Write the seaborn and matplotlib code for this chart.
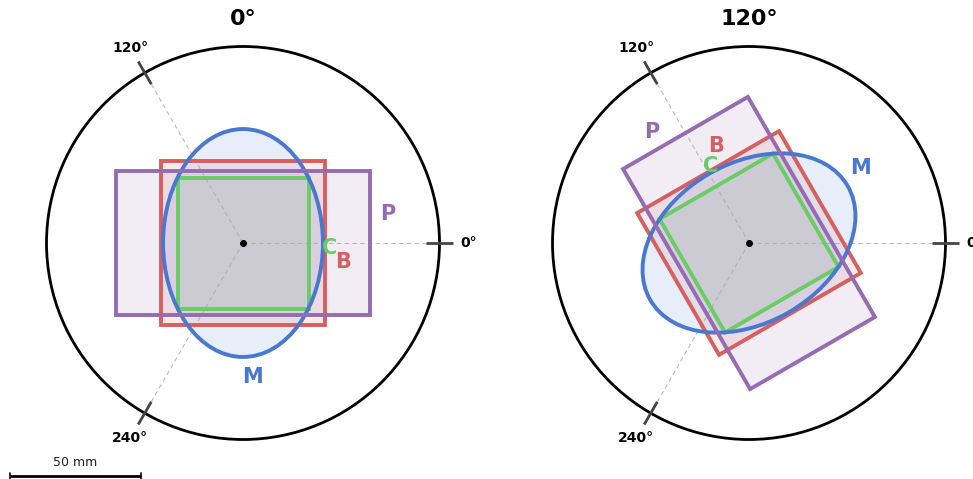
import numpy as np
import matplotlib
matplotlib.use("Agg")
import matplotlib.pyplot as plt
from matplotlib.patches import Rectangle, Ellipse, Circle
import seaborn as sns

# ---- data ----
panel_angles = [0, 120]
panel_titles = ["0°", "120°"]
shape_names = ["B", "C", "M", "P"]          # drawing order (bottom -> top)
shape_kinds = ["rect", "rect", "ellipse", "rect"]
shape_widths = [62.5, 50.0, 61.0, 97.0]      # mm
shape_heights = [62.5, 50.0, 87.0, 55.0]     # mm
label_x = [38.3, 32.9, 3.6, 55.2]            # mm, at 0° orientation
label_y = [-7.4, -2.0, -51.3, 11.1]
ref_angles = [0, 120, 240]
ref_labels = ["0°", "120°", "240°"]
circle_radius = 75.0
scale_length = 50.0
scale_label = "50 mm"

sns.set_theme(style="white")
plt.rcParams['font.family'] = ['DejaVu Sans']
muted = sns.color_palette("muted")
colors = {"B": muted[3], "C": muted[2], "M": muted[0], "P": muted[4]}

W, H = 973, 479
s = 2.62  # px per mm
fig = plt.figure(figsize=(W / 100, H / 100), dpi=100)
centers_px = [243, 749]
bounds = [(0, 486), (486, W)]
cy = 243


def make_patch(kind, w, h, ang, **kw):
    if kind == "rect":
        return Rectangle((-w / 2, -h / 2), w, h, angle=ang, rotation_point="center", **kw)
    return Ellipse((0, 0), w, h, angle=ang, **kw)


for i, (ang, title) in enumerate(zip(panel_angles, panel_titles)):
    x0, x1 = bounds[i]
    ax = fig.add_axes([x0 / W, 0, (x1 - x0) / W, 1])
    cx = centers_px[i]
    ax.set_xlim(-(cx - x0) / s, (x1 - cx) / s)
    ax.set_ylim(-(H - cy) / s, cy / s)
    ax.axis("off")

    ax.add_patch(Circle((0, 0), circle_radius, fill=False, ec="black", lw=2.0, zorder=1))

    # fills first
    for k, (name, kind, w, h) in enumerate(zip(shape_names, shape_kinds, shape_widths, shape_heights)):
        ax.add_patch(make_patch(kind, w, h, ang, fc=colors[name], alpha=0.12, ec="none", zorder=2 + k * 0.1))
    # outlines on top
    for k, (name, kind, w, h) in enumerate(zip(shape_names, shape_kinds, shape_widths, shape_heights)):
        ax.add_patch(make_patch(kind, w, h, ang, fill=False, ec=colors[name], lw=2.8, zorder=4 + k * 0.1))

    # reference axes
    for ra, rl in zip(ref_angles, ref_labels):
        t = np.deg2rad(ra)
        ax.plot([0, 70 * np.cos(t)], [0, 70 * np.sin(t)], color="#aaaaaa", lw=0.8,
                ls=(0, (4, 3)), alpha=0.8, zorder=3)
        ax.plot([70 * np.cos(t), 80 * np.cos(t)], [70 * np.sin(t), 80 * np.sin(t)],
                color="#444444", lw=2.0, solid_capstyle="butt", zorder=9)
        ax.text(86 * np.cos(t), 86 * np.sin(t), rl, ha="center", va="center",
                fontsize=10, fontweight="bold", color="black", zorder=10)

    ax.plot([0], [0], marker="o", ms=4, color="black", zorder=10)

    # shape labels rotated with the panel
    t = np.deg2rad(ang)
    for name, lx, ly in zip(shape_names, label_x, label_y):
        rx = lx * np.cos(t) - ly * np.sin(t)
        ry = lx * np.sin(t) + ly * np.cos(t)
        ax.text(rx, ry, name, ha="center", va="center", fontsize=15, fontweight="bold",
                color=colors[name], zorder=11)

    ax.text(0, 83.2, title, ha="center", va="baseline", fontsize=16, fontweight="bold",
            color="black")

    if i == 0:
        xs = -(cx - 10) / s
        ys = -(476 - cy) / s
        ax.plot([xs, xs + scale_length], [ys, ys], color="black", lw=2.0,
                solid_capstyle="butt", zorder=10)
        for xe in (xs, xs + scale_length):
            ax.plot([xe, xe], [ys - 1.2, ys + 1.2], color="black", lw=1.2, zorder=10)
        ax.text(xs + scale_length / 2, ys + 2.5, scale_label, ha="center", va="bottom",
                fontsize=9, color="#222222")

fig.savefig("out.png", dpi=100)
